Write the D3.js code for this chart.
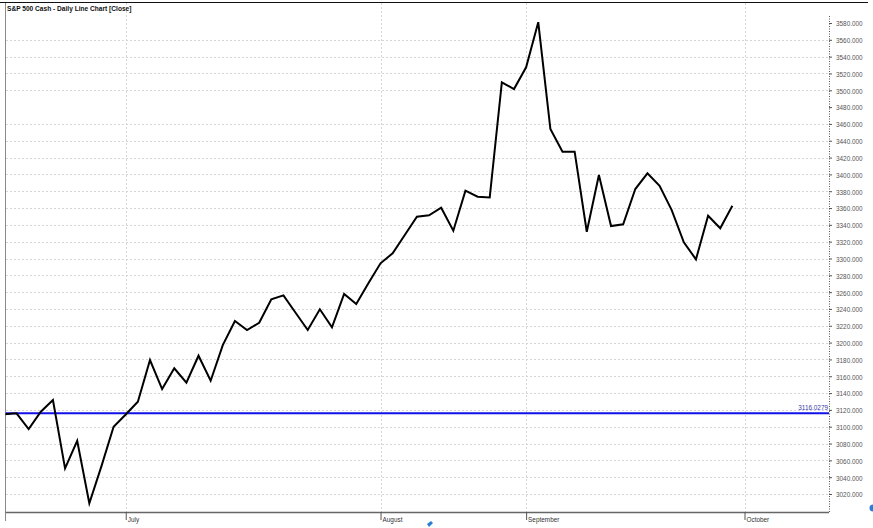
<!DOCTYPE html>
<html>
<head>
<meta charset="utf-8">
<script src="https://cdn.jsdelivr.net/npm/d3@7"></script>
<style>
  html, body { margin: 0; padding: 0; background: #fff; }
  svg { display: block; }
  text { font-family: "Liberation Sans", Arial, sans-serif; }
</style>
</head>
<body>
<svg id="chart" width="873" height="528"></svg>
<script>
// ---- data ----
const title = "S&P 500 Cash - Daily Line Chart [Close]";
const closes = [3114.7, 3115.9, 3097.2, 3117.9, 3131.7, 3050.5, 3083.3, 3009.0, 3053.2, 3100.0,
  3114.5, 3129.7, 3179.3, 3144.8, 3169.4, 3152.3, 3184.4, 3154.7, 3197.0, 3225.7,
  3215.0, 3223.6, 3251.5, 3256.2, 3235.5, 3215.0, 3239.6, 3218.2, 3257.8, 3245.9,
  3270.5, 3294.3, 3306.2, 3327.9, 3349.7, 3351.3, 3360.4, 3333.0, 3380.6, 3373.5,
  3372.5, 3509.5, 3501.5, 3527.3, 3581.0, 3454.0, 3427.0, 3427.0, 3331.8, 3399.3,
  3338.6, 3340.6, 3382.6, 3401.3, 3386.5, 3357.6, 3319.2, 3299.0, 3350.9, 3335.9, 3362.8];
const monthLabels = ["July", "August", "September", "October"];
const monthStartIndex = [10, 31, 43, 61];
const yTicks = d3.range(3020, 3581, 20);
const gridSkip = [3480, 3580];
const hLineValue = 3116.0279;
const hLineLabel = "3116.0279";

// ---- layout ----
const svg = d3.select("#chart");
const plotLeft = 5.5, plotRight = 829, plotTop = 2.5, plotBottom = 512;

const x = d3.scaleLinear().domain([0, 61]).range([4.4, 744.5]);
const y = d3.scaleLinear().domain([3020, 3580]).range([494, 23]);

svg.append("defs").append("clipPath").attr("id", "plotclip")
  .append("rect").attr("x", plotLeft).attr("y", plotTop)
  .attr("width", plotRight - plotLeft).attr("height", plotBottom - plotTop);

// horizontal grid
const hGrid = svg.append("g").attr("transform", `translate(${plotLeft},0)`)
  .call(d3.axisRight(y).tickValues(yTicks.filter(v => !gridSkip.includes(v)))
    .tickSize(plotRight - plotLeft).tickFormat(""));
hGrid.select(".domain").remove();
hGrid.selectAll("line").attr("stroke", "#d6d6d6").attr("stroke-dasharray", "2,2")
  .attr("shape-rendering", "crispEdges");

// vertical grid
const vGrid = svg.append("g").attr("transform", `translate(0,${plotTop})`)
  .call(d3.axisBottom(x).tickValues(monthStartIndex)
    .tickSize(plotBottom - plotTop).tickFormat(""));
vGrid.select(".domain").remove();
vGrid.selectAll("line").attr("stroke", "#d6d6d6").attr("stroke-dasharray", "2,2")
  .attr("shape-rendering", "crispEdges");

// top and left borders
svg.append("line").attr("x1", 0).attr("x2", 868).attr("y1", plotTop).attr("y2", plotTop)
  .attr("stroke", "#111").attr("stroke-width", 1).attr("shape-rendering", "crispEdges");
svg.append("line").attr("x1", plotLeft).attr("x2", plotLeft).attr("y1", plotTop).attr("y2", 521)
  .attr("stroke", "#8a8a8a").attr("stroke-width", 1).attr("shape-rendering", "crispEdges");

// title
svg.append("text").attr("x", 7).attr("y", 11.4).text(title)
  .attr("font-size", 6.6).attr("font-weight", "bold").attr("fill", "#111");

// blue horizontal line
svg.append("line").attr("clip-path", "url(#plotclip)")
  .attr("x1", plotLeft).attr("x2", plotRight)
  .attr("y1", y(hLineValue)).attr("y2", y(hLineValue))
  .attr("stroke", "#1010e8").attr("stroke-width", 2);
svg.append("text").attr("x", 828).attr("y", y(hLineValue) - 5)
  .attr("text-anchor", "end").attr("dominant-baseline", "middle")
  .attr("font-size", 6.4).attr("fill", "#3a3aa8").text(hLineLabel);

// price line
const line = d3.line().x((d, i) => x(i)).y(d => y(d));
svg.append("path").datum(closes).attr("clip-path", "url(#plotclip)")
  .attr("d", line).attr("fill", "none").attr("stroke", "#000")
  .attr("stroke-width", 2).attr("stroke-linejoin", "miter");

// right axis
svg.append("line").attr("x1", plotRight + 0.5).attr("x2", plotRight + 0.5)
  .attr("y1", 16).attr("y2", plotBottom)
  .attr("stroke", "#555").attr("stroke-dasharray", "1,1.5");
const yAxis = svg.append("g").attr("transform", `translate(${plotRight},0)`)
  .call(d3.axisRight(y).tickValues(yTicks).tickSize(3).tickPadding(4)
    .tickFormat(d3.format(".3f")));
yAxis.select(".domain").remove();
yAxis.selectAll("line").attr("stroke", "#555");
yAxis.selectAll("text").attr("font-size", 6.4).attr("fill", "#555")
  .attr("dy", "0.45em").attr("font-family", "Liberation Sans, Arial, sans-serif");

// bottom axis
const xAxis = svg.append("g").attr("transform", `translate(0,${plotBottom})`)
  .call(d3.axisBottom(x).tickValues(monthStartIndex).tickSize(8).tickPadding(-4)
    .tickFormat((d, i) => monthLabels[i]));
xAxis.select(".domain").attr("d", `M${plotLeft},0.5H${plotRight}`)
  .attr("stroke", "#666").attr("stroke-width", 1.5);
xAxis.selectAll("line").attr("stroke", "#555");
xAxis.selectAll("text").attr("text-anchor", "start").attr("dx", 1.5)
  .attr("font-size", 6.4).attr("fill", "#333").attr("dy", "0.9em")
  .attr("font-family", "Liberation Sans, Arial, sans-serif");

// small UI marks at the edge of the screenshot
svg.append("circle").attr("cx", 873).attr("cy", 508).attr("r", 3.5).attr("fill", "#2a7fd4");
svg.append("path").attr("d", "M427,524 l4,-3 l2,2 l-4,4 z").attr("fill", "#2a7fd4");
</script>
</body>
</html>
